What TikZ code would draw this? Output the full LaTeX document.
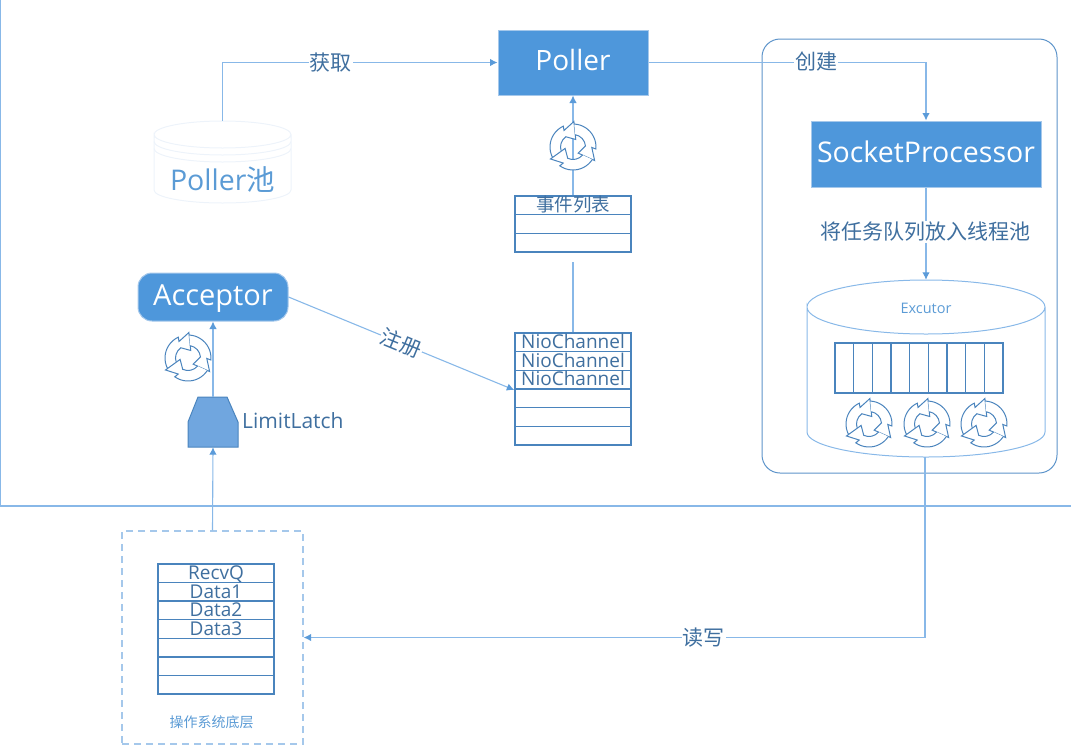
\documentclass[tikz,border=0pt]{standalone}
\usepackage{fontspec}
\setmainfont{Open Sans}
\newfontfamily\cjkf{Noto Sans CJK SC}
\usetikzlibrary{arrows.meta,calc}
\definecolor{conn}{HTML}{88B8E8}
\definecolor{tip}{HTML}{5B9BD9}
\definecolor{fillb}{HTML}{4E97DB}
\definecolor{edgeb}{HTML}{A5C8EB}
\definecolor{tbl}{HTML}{4A84BD}
\definecolor{txtd}{HTML}{3F6F9F}
\definecolor{txtl}{HTML}{5B9BD5}
\definecolor{faint}{HTML}{EDF3FA}
\definecolor{latchf}{HTML}{70A6DF}
\tikzset{
  x=1pt,y=-1pt,
  conline/.style={draw=conn,line width=1.1pt},
  conarrow/.style={conline,-{Latex[length=7.5pt,width=7.5pt,color=tip]}},
  bluebox/.style={draw=edgeb,line width=1pt,fill=fillb,text=white,inner sep=0pt,anchor=center},
  rowcell/.style={draw=tbl,line width=1.4pt,fill=white,minimum width=116pt,inner sep=0pt,text=txtd,font=\fontsize{19}{20}\selectfont,text height=12.5pt,text depth=0pt},
  lab/.style={fill=white,inner sep=1pt,text=txtd,font=\cjkf\fontsize{21}{22}\selectfont},
  qcell/.style={draw=tbl,line width=1.4pt,minimum width=18.67pt,minimum height=50pt,inner sep=0pt,outer sep=0pt},
  recycle/.pic={
    \foreach \r in {0,-120,-240}{
      \begin{scope}[rotate=\r,x=1pt,y=1pt]
      \draw[draw=tbl,line width=1pt,fill=white,line join=miter]
        (207:23pt) arc[start angle=207,end angle=115,radius=23pt]
        -- (118.6:18.8pt) -- (88:25.5pt) -- (70:8pt) -- (125:12.5pt)
        arc[start angle=125,end angle=200,radius=12.5pt];
      \end{scope}
    }
  }
}
\begin{document}
\begin{tikzpicture}
\useasboundingbox (0,0) rectangle (1071,750);
% frame
\coordinate (ftop) at (0.5,0);
\coordinate (fcorner) at (0.5,506);
\coordinate (fright) at (1071,506);
\draw[conline] (ftop) -- (fcorner) -- (fright);
\node[draw=tbl!70!conn,line width=1pt,rounded corners=18pt,minimum width=295pt,minimum height=434pt,inner sep=0pt] (group) at (909.5,256) {};
% Poller pool cylinder
\node[minimum width=137pt,minimum height=82pt,inner sep=0pt] (pool) at (222.5,162) {};
\draw[faint,line width=1pt] (154,134.5) arc[start angle=180,end angle=-180,x radius=68.5pt,y radius=13.5pt] -- (154,190) arc[start angle=180,end angle=360,x radius=68.5pt,y radius=13pt] -- (291,134.5);
\draw[faint,line width=1pt] (154,141.5) arc[start angle=180,end angle=360,x radius=68.5pt,y radius=13.5pt];
\draw[faint,line width=1pt] (154,148.5) arc[start angle=180,end angle=360,x radius=68.5pt,y radius=13.5pt];
\node[text=txtl,inner sep=0pt,font=\fontsize{28.5}{30}\selectfont] at (222.5,180) {Poller{\cjkf 池}};
% main boxes
\node[bluebox,minimum width=150pt,minimum height=65pt,font=\fontsize{28}{30}\selectfont,text height=20pt,text depth=5pt] (poller) at (573,62.5) {Poller};
\node[bluebox,minimum width=230pt,minimum height=66pt,font=\fontsize{28.5}{30}\selectfont,text height=21pt,text depth=5pt] (socket) at (926,154) {SocketProcessor};
\node[bluebox,rounded corners=14pt,minimum width=150pt,minimum height=48pt,font=\fontsize{29}{30}\selectfont,text height=21pt,text depth=5pt] (acceptor) at (213,297) {Acceptor};
% Excutor
\node[minimum width=238pt,minimum height=177pt,inner sep=0pt] (excutor) at (926,368.5) {};
\draw[conn,line width=1pt] (807,307) arc[start angle=180,end angle=-180,x radius=119pt,y radius=27pt] -- (807,432) arc[start angle=180,end angle=360,x radius=119pt,y radius=25pt] -- (1045,307);
\node[text=txtl,inner sep=0pt,font=\fontsize{14.5}{15}\selectfont] at (926,308) {Excutor};
\foreach \i in {0,...,8}{
  \node[qcell] (q\i) at ({844.33+\i*18.67},368) {};
}
% tables
\foreach \i/\t in {0/{\cjkf\fontsize{18.5}{19}\selectfont 事件列表},1/{},2/{}}{
  \node[rowcell,minimum height=18.67pt] (ev\i) at (573,{205.3+\i*18.67}) {\t};
}
\foreach \i/\t in {0/NioChannel,1/NioChannel,2/NioChannel,3/{},4/{},5/{}}{
  \node[rowcell,minimum height=18.67pt] (nio\i) at (573,{342.3+\i*18.67}) {\t};
}
\foreach \i/\t in {0/RecvQ,1/Data1,2/Data2,3/Data3,4/{},5/{},6/{}}{
  \node[rowcell,minimum height=18.57pt] (rq\i) at (216,{573.3+\i*18.57}) {\t};
}
% Latch
\node[minimum width=50pt,minimum height=50pt,inner sep=0pt] (latch) at (213,422) {};
\draw[draw=tbl,line width=1pt,fill=latchf] (198,397) -- (227,397) -- (238,422) -- (238,447) -- (188,447) -- (188,422) -- cycle;
\node[anchor=west,text=txtd,inner sep=0pt,font=\fontsize{21}{22}\selectfont] at (242,421) {LimitLatch};
% OS box
\node[draw=edgeb,line width=1.3pt,dash pattern=on 7pt off 5pt,minimum width=181pt,minimum height=213pt,inner sep=0pt] (os) at (212.5,637.5) {};
\node[text=txtl,inner sep=0pt,font=\cjkf\fontsize{14}{15}\selectfont] at (211.5,722.5) {操作系统底层};
% connectors
\draw[conarrow] (pool.north) |- (poller.west) node[lab,pos=0.697] {获取};
\draw[conarrow] (poller.east) -| (socket.north);
\node[lab] at (816,62) {创建};
\draw[conarrow] (socket.south) -- (excutor.north);
\node[lab] at (925.5,232) {将任务队列放入线程池};
\draw[conarrow] (ev0.north) -- (poller.south);
\coordinate (evgap) at (573,262);
\draw[conline] (nio0.north) -- (evgap);
\draw[conarrow] (acceptor.east) -- (nio3.west |- 0,390) node[lab,pos=0.5,sloped,allow upside down=false] {注册};
\draw[conarrow] (latch.north) -- (acceptor.south);
\draw[conarrow] (os.north) -- (latch.south);
\coordinate (excbottom) at (925,457);
\draw[conarrow] (excbottom) |- (os.east) node[lab,pos=0.678] {读写};
% recycles
\pic at (869,424) {recycle};
\pic at (927,424) {recycle};
\pic at (984,424) {recycle};
\pic at (188,358) {recycle};
\pic at (573,147) {recycle};
\end{tikzpicture}
\end{document}
